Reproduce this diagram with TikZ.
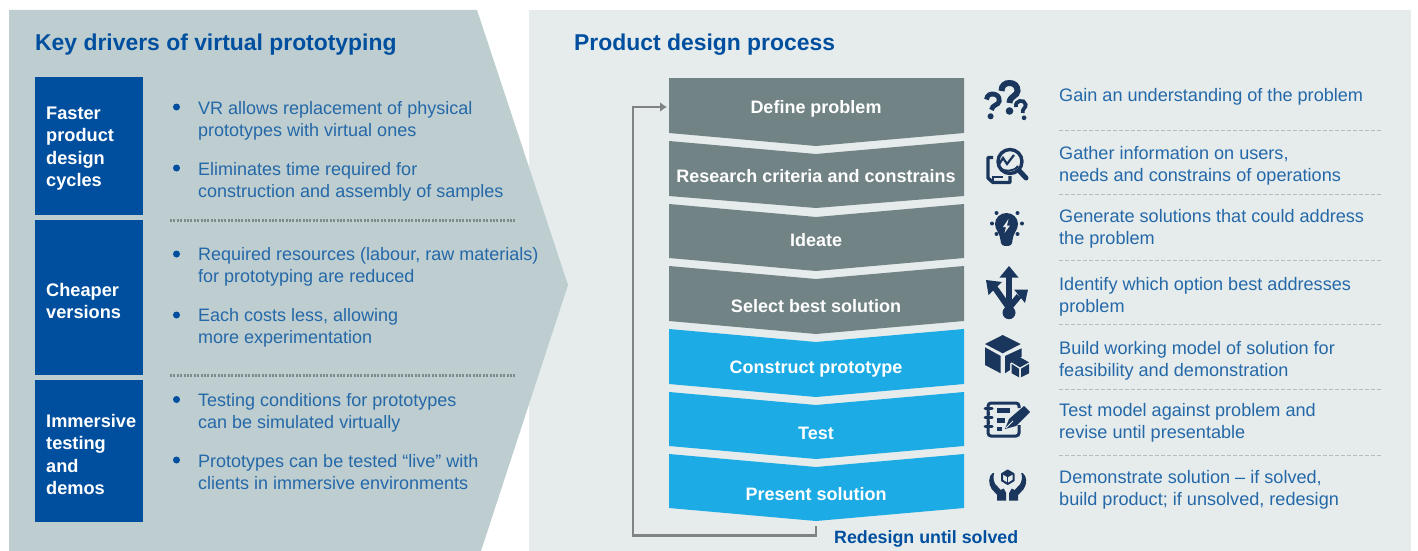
\documentclass[tikz,border=0pt]{standalone}
\usepackage{fontspec}
\usetikzlibrary{arrows.meta}
\setmainfont{Liberation Sans}
\definecolor{leftbg}{HTML}{BDCDD0}
\definecolor{rightbg}{HTML}{E6ECEC}
\definecolor{dblue}{HTML}{004F9F}
\definecolor{txtblue}{HTML}{2468A8}
\definecolor{headblue}{HTML}{004F9F}
\definecolor{slate}{HTML}{728385}
\definecolor{sky}{HTML}{1CABE4}
\definecolor{icon}{HTML}{1B365D}
\definecolor{dashc}{HTML}{B5BDBD}
\definecolor{dotc}{HTML}{7F8A8C}
\definecolor{loopc}{HTML}{7F8383}
\newcommand{\chev}[5]{% colour, top, notch, bottom, tip
  \fill[#1] (669,#2) -- (816,#3) -- (964,#2) -- (964,#4) -- (816,#5) -- (669,#4) -- cycle;}
\newcommand{\qmark}[4]{%
  \begin{scope}[shift={(#1,#2)},rotate=#4]
  \draw[icon,line width=#3*6pt] (-8*#3,-7*#3) .. controls (-8*#3,-13*#3) and (-4*#3,-15*#3) .. (0,-15*#3) .. controls (5*#3,-15*#3) and (8*#3,-12*#3) .. (8*#3,-7*#3) .. controls (8*#3,-2*#3) and (0,-2*#3) .. (0,5*#3);
  \fill[icon] (0,13*#3) circle[radius=#3*3.8pt];
  \end{scope}}
\tikzset{
  x=1pt,y=-1pt,
  heading/.style={anchor=west,font=\fontsize{22.9}{28}\selectfont\bfseries,text=headblue,inner sep=0pt},
  side/.style={anchor=west,font=\fontsize{18.2}{22.5}\selectfont\bfseries,text=white,align=left,inner sep=0pt},
  body/.style={anchor=west,font=\fontsize{18}{22}\selectfont,text=txtblue,align=left,inner sep=0pt},
  rbody/.style={body,font=\fontsize{18.1}{22}\selectfont},
  steplabel/.style={anchor=center,font=\fontsize{18}{22}\selectfont\bfseries,text=white,inner sep=0pt},
  bullet/.style={circle,fill=dblue,inner sep=0pt,minimum size=7pt},
  dotline/.style={line width=2.6pt,dash pattern=on 2pt off 1.4pt,draw=dotc},
  rowline/.style={line width=1pt,dash pattern=on 3.5pt off 2.5pt,draw=dashc},
}
\begin{document}
\begin{tikzpicture}
\useasboundingbox (0,0) rectangle (1418,551);
% panels
\fill[rightbg] (529,10) rectangle (1411,551);
\fill[leftbg] (9,10) -- (477,10) -- (568,285) -- (481,551) -- (9,551) -- cycle;
\node[heading] (h1) at (35,45) {Key drivers of virtual prototyping};
\node[heading] (h2) at (574,45) {Product design process};
% left boxes
\fill[dblue] (35,77) rectangle (143,215);
\fill[dblue] (35,220) rectangle (143,375);
\fill[dblue] (35,380) rectangle (143,522);
\node[side] (s1) at (46,148.5) {Faster\\product\\design\\cycles};
\node[side] (s2) at (46,301) {Cheaper\\versions};
\node[side] (s3) at (46,454.5) {Immersive\\testing\\and\\demos};
\draw[dotline] (170,220.7) -- (515,220.7);
\draw[dotline] (170,375.7) -- (515,375.7);
% bullets
\foreach \n/\y in {b1/107,b2/168,b3/254,b4/315,b5/399.5,b6/460}
  \node[bullet] (\n) at (176.5,\y) {};
\node[body] (t1) at (198,120.5) {VR allows replacement of physical\\prototypes with virtual ones};
\node[body] (t2) at (198,182) {Eliminates time required for\\construction and assembly of samples};
\node[body] (t3) at (198,267) {Required resources (labour, raw materials)\\for prototyping are reduced};
\node[body] (t4) at (198,328) {Each costs less, allowing\\more experimentation};
\node[body] (t5) at (198,412.5) {Testing conditions for prototypes\\can be simulated virtually};
\node[body] (t6) at (198,472.5) {Prototypes can be tested “live” with\\clients in immersive environments};
% chevrons
\fill[slate] (669,78) -- (964,78) -- (964,133) -- (816,146) -- (669,133) -- cycle;
\chev{slate}{141}{154}{196}{208}
\chev{slate}{204}{217}{258}{271}
\chev{slate}{266}{279}{321}{334}
\chev{sky}{329}{342}{384}{397}
\chev{sky}{392}{405}{446}{459}
\chev{sky}{454}{467}{508}{521}
\node[steplabel] (c1) at (816,109) {Define problem};
\node[steplabel] (c2) at (816,176) {Research criteria and constrains};
\node[steplabel] (c3) at (816,240) {Ideate};
\node[steplabel] (c4) at (816,306) {Select best solution};
\node[steplabel] (c5) at (816,369) {Construct prototype};
\node[steplabel] (c6) at (816,433.5) {Test};
\node[steplabel] (c7) at (816,494) {Present solution};
% loop
\coordinate (loopstart) at (816,526);
\coordinate (loopend) at (667,107);
\draw[loopc,line width=2.6pt,-{Latex[length=7pt,width=10pt]}] (loopstart) -- (816,535.5) -- (633,535.5) -- (633,107) -- (loopend);
\node[anchor=west,font=\fontsize{17.8}{22}\selectfont\bfseries,text=headblue,inner sep=0pt] (redesign) at (834,539) {Redesign until solved};
% right column
\foreach \y in {130,194.5,260,324.5,389.5,455}
  \draw[rowline] (1059,\y) -- (1381,\y);
\node[rbody] (r1) at (1059,97) {Gain an understanding of the problem};
\node[rbody] (r2) at (1059,166) {Gather information on users,\\needs and constrains of operations};
\node[rbody] (r3) at (1059,229) {Generate solutions that could address\\the problem};
\node[rbody] (r4) at (1059,297) {Identify which option best addresses\\problem};
\node[rbody] (r5) at (1059,361) {Build working model of solution for\\feasibility and demonstration};
\node[rbody] (r6) at (1059,423) {Test model against problem and\\revise until presentable};
\node[rbody] (r7) at (1059,490) {Demonstrate solution – if solved,\\build product; if unsolved, redesign};
% icon: questions
\qmark{1009.5}{98}{1}{0}
\qmark{992}{106}{.8}{-8}
\qmark{1022}{110}{.62}{15}
% icon: magnifier
\draw[icon,line width=3.4pt] (1010,161.5) circle[radius=12pt];
\draw[icon,line width=5pt,line cap=round] (1019.5,171) -- (1026,178);
\draw[icon,line width=2.2pt] (998,166) -- (1003,158) -- (1007,164) -- (1014,155);
\draw[icon,line width=2pt] (1000,168) .. controls (1004,172) and (1014,172) .. (1018,166);
\draw[icon,line width=3.4pt,line join=round] (993,157.5) -- (988,157.5) -- (988,178) -- (993,182.5) -- (1010,182.5) -- (1010,176);
\draw[icon,line width=2.4pt] (993,182) -- (993,177) -- (1003,177);
% icon: bulb
\fill[icon] (1006.5,213) .. controls (1013,213) and (1018,218) .. (1018,224) .. controls (1018,230) and (1013,233) .. (1012.5,240) .. controls (1012.5,245) and (1010,246) .. (1006.5,246) .. controls (1003,246) and (1000.5,245) .. (1000.5,240) .. controls (1000,233) and (995,230) .. (995,224) .. controls (995,218) and (1000,213) .. (1006.5,213) -- cycle;
\fill[rightbg] (1008.5,219) -- (1003,227) -- (1006,227) -- (1004.5,233) -- (1010,225.5) -- (1007,225.5) -- cycle;
\foreach \a/\b in {992/223.5,1022/223.5,996.5/213,1017.5/213,996.5/234,1017.5/234}
  \fill[icon] (\a,\b) circle[radius=2pt];
% icon: fork
\draw[icon,line width=6pt] (1009,274) -- (1009,312);
\fill[icon] (1009,266) -- (1018.5,277.5) -- (999.5,277.5) -- cycle;
\draw[icon,line width=6pt] (995,288) -- (1009,308);
\fill[icon] (986,280) -- (1002,282) -- (988.5,295) -- cycle;
\draw[icon,line width=6pt] (1019,296) -- (1009,308);
\fill[icon] (1014,289.5) -- (1028,289.5) -- (1025,303) -- cycle;
\fill[icon] (1009,312.7) circle[radius=6.5pt];
% icon: cubes
\fill[icon] (1002.7,335) -- (1020.7,344) -- (1002.7,353.3) -- (985,344) -- cycle;
\fill[icon] (985,347.3) -- (1000.7,356) -- (1000.7,373.3) -- (985,365) -- cycle;
\fill[icon] (1005,356) -- (1021.7,348.3) -- (1021.7,356.7) -- (1010,363.3) -- (1010,370) -- (1005,373.3) -- cycle;
\fill[icon] (1020,357.3) -- (1029,362.3) -- (1020,367.3) -- (1011.7,362.3) -- cycle;
\fill[icon] (1011.7,364) -- (1019,368.7) -- (1019,377.3) -- (1011.7,373.3) -- cycle;
\fill[icon] (1021,368.7) -- (1029,364) -- (1029,373.3) -- (1021,377.3) -- cycle;
% icon: notebook
\draw[icon,line width=3pt,rounded corners=3pt] (1019,408) -- (1019,403) -- (988,403) -- (988,436) -- (1019,436) -- (1019,425);
\foreach \y in {408.5,417.5,426.5}
  \draw[icon,line width=3pt,line cap=round] (985,\y) -- (992,\y);
\fill[icon] (997,408) rectangle (1010,413);
\fill[icon] (997,418) rectangle (1005,423);
\fill[icon] (997,427) rectangle (1002,431);
\fill[icon] (986.5,411.5) rectangle (990,415);
\fill[icon] (986.5,420.5) rectangle (990,424);
\fill[icon] (1005,429) -- (1009,419) -- (1024,406) -- (1030,412) -- (1016,426) -- cycle;
\draw[rightbg,line width=.8pt] (1006,428) -- (1013,421);
% icon: hands
\draw[icon,line width=2pt,line join=round] (1007.7,470.5) -- (1013.5,474) -- (1013.5,480.5) -- (1007.7,484) -- (1002,480.5) -- (1002,474) -- cycle;
\fill[icon] (1002,474) -- (1007.7,477.3) -- (1013.5,474) -- (1007.7,470.5) -- cycle;
\draw[icon,line width=1.2pt] (1007.7,477.3) -- (1007.7,484);
\foreach \m in {1,-1}{
 \begin{scope}[shift={(1007.7,0)},xscale=\m]
  \fill[icon] (-13.5,473) .. controls (-15,477) and (-14,481) .. (-12.5,484) -- (-7,490) -- (-4,488.5) -- (-1.5,493) -- (-1.5,500.5) -- (-10.5,500.5) -- (-10.5,495) -- (-16,489) .. controls (-19.5,484) and (-19.5,476) .. (-15,473) -- cycle;
 \end{scope}}
\end{tikzpicture}
\end{document}
